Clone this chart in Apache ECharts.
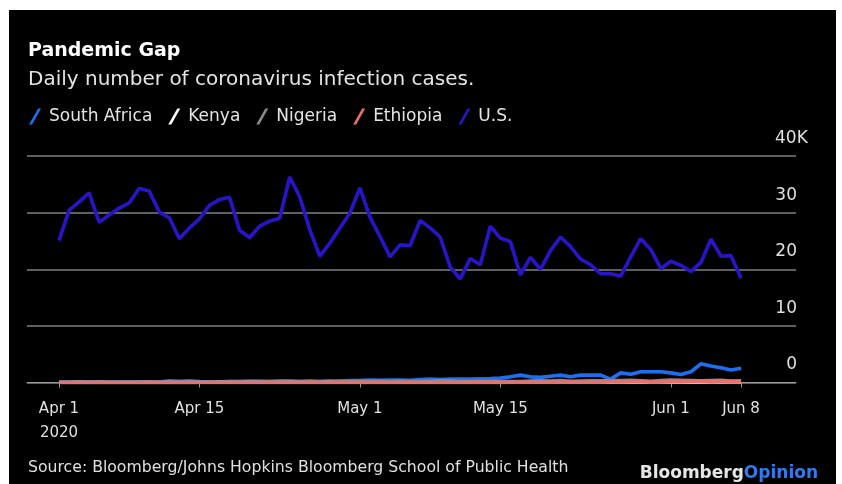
<!DOCTYPE html>
<html><head><meta charset="utf-8">
<script src="https://cdn.jsdelivr.net/npm/echarts@6/dist/echarts.min.js"></script>
<style>
html,body{margin:0;padding:0;background:#fff;width:842px;height:484px;overflow:hidden}
#c{position:absolute;left:9px;top:10px;width:827px;height:474px;background:#000}
</style></head><body><div id="c"></div>
<script>
// Daily cases, thousands, Apr 1 2020 .. Jun 8 2020 (69 days)
const firstDay = '2020-04-01';
const tickDays = ['2020-04-01','2020-04-15','2020-05-01','2020-05-15','2020-06-01','2020-06-08'];
const tickLabels = ['Apr 1\n2020','Apr 15','May 1','May 15','Jun 1','Jun 8'];

const southAfrica = [0.1,0.05,0.1,0.1,0.1,0.05,0.1,0.1,0.1,0.05,
  0.1,0.3,0.2,0.3,0.15,0.1,0.1,0.2,0.2,0.25,
  0.25,0.2,0.3,0.3,0.2,0.3,0.2,0.3,0.25,0.35,
  0.35,0.45,0.4,0.45,0.45,0.4,0.5,0.6,0.5,0.6,
  0.6,0.6,0.65,0.7,0.8,1.0,1.3,1.0,0.9,1.1,
  1.3,1.0,1.3,1.3,1.3,0.6,1.7,1.45,1.9,1.9,
  1.9,1.7,1.4,1.9,3.3,2.9,2.6,2.2,2.5];
const kenya = [0.01,0.01,0.02,0.01,0.02,0.01,0.01,0.01,0.01,0.02,
  0.01,0.01,0.01,0.01,0.01,0.01,0.02,0.01,0.01,0.02,
  0.01,0.01,0.01,0.02,0.01,0.01,0.01,0.02,0.01,0.01,
  0.02,0.02,0.03,0.02,0.02,0.02,0.03,0.02,0.03,0.02,
  0.03,0.03,0.02,0.05,0.03,0.04,0.05,0.05,0.06,0.05,
  0.07,0.04,0.06,0.08,0.06,0.07,0.12,0.09,0.1,0.12,
  0.13,0.08,0.1,0.12,0.1,0.13,0.13,0.12,0.14];
const nigeria = [0.01,0.02,0.02,0.03,0.02,0.02,0.03,0.02,0.03,0.02,
  0.02,0.04,0.02,0.03,0.05,0.06,0.04,0.09,0.08,0.04,
  0.05,0.12,0.09,0.1,0.1,0.12,0.09,0.1,0.2,0.2,
  0.24,0.2,0.24,0.17,0.24,0.15,0.2,0.2,0.35,0.3,
  0.15,0.18,0.19,0.17,0.19,0.18,0.18,0.25,0.28,0.25,
  0.33,0.2,0.25,0.3,0.28,0.34,0.35,0.39,0.3,0.2,
  0.35,0.45,0.4,0.35,0.3,0.35,0.4,0.25,0.3];
const ethiopia = [0.01,0.01,0.01,0.0,0.01,0.0,0.01,0.0,0.01,0.01,
  0.0,0.0,0.01,0.01,0.01,0.0,0.0,0.01,0.01,0.0,
  0.01,0.0,0.0,0.01,0.0,0.01,0.0,0.0,0.01,0.0,
  0.01,0.0,0.01,0.0,0.01,0.0,0.01,0.0,0.01,0.01,
  0.01,0.02,0.02,0.02,0.03,0.02,0.02,0.03,0.04,0.03,
  0.05,0.06,0.04,0.05,0.06,0.08,0.1,0.12,0.2,0.1,
  0.1,0.15,0.12,0.2,0.25,0.2,0.28,0.15,0.18];
const unitedStates = [25.1,30.4,31.9,33.5,28.3,29.6,30.8,31.7,34.3,33.8,
  30.1,29.1,25.4,27.3,28.9,31.3,32.3,32.7,26.9,25.6,
  27.6,28.5,29.0,36.3,32.8,27.0,22.3,24.6,27.3,29.9,
  34.4,29.2,25.8,22.2,24.3,24.2,28.6,27.3,25.7,20.4,
  18.3,21.9,20.8,27.6,25.5,24.9,19.0,22.1,20.0,23.3,
  25.7,24.0,21.8,20.8,19.2,19.2,18.8,22.2,25.4,23.5,
  20.1,21.4,20.7,19.6,21.2,25.3,22.3,22.4,18.4];

const seriesNames = ['South Africa','Kenya','Nigeria','Ethiopia','U.S.'];
const seriesValues = [southAfrica, kenya, nigeria, ethiopia, unitedStates];
const seriesColors = ['#1e6ff0','#ffffff','#8a8a8a','#e8716d','#2a14c8'];

const DAY = 86400000;
const t0 = Date.parse(firstDay + 'T00:00:00Z');
// day offsets from Apr 1
const tickIdx = tickDays.map(d => Math.round((Date.parse(d + 'T00:00:00Z') - t0) / DAY));
const labelByIdx = {};
tickIdx.forEach((t, i) => { labelByIdx[t] = tickLabels[i]; });

const FONT = 'DejaVu Sans';
const chart = echarts.init(document.getElementById('c'));
chart.setOption({
  backgroundColor: '#000',
  animation: false,
  textStyle: { fontFamily: FONT },
  title: {
    text: 'Pandemic Gap',
    subtext: 'Daily number of coronavirus infection cases.',
    left: 14, top: 27,
    itemGap: 9,
    textStyle: { color: '#fff', fontSize: 19, fontWeight: 'bold', fontFamily: FONT },
    subtextStyle: { color: '#e4e4e4', fontSize: 20, fontFamily: FONT }
  },
  legend: {
    left: 15, top: 93,
    itemWidth: 12, itemHeight: 16, itemGap: 16,
    icon: 'path://M0,16 L3,16 L12,0 L9,0 Z',
    textStyle: { color: '#e4e4e4', fontSize: 17, fontFamily: FONT, padding: [0, 0, 0, 3] },
    data: seriesNames
  },
  grid: { left: 18, right: 40, top: 146, bottom: 101.5, containLabel: false },
  xAxis: {
    type: 'value',
    min: -3.19,
    max: 73.48,
    axisLine: { show: true, onZero: false, lineStyle: { color: '#9a9a9a', width: 1 } },
    axisTick: { show: true, length: 5, lineStyle: { color: '#9a9a9a' }, customValues: tickIdx },
    axisLabel: {
      customValues: tickIdx,
      color: '#e0e0e0', fontSize: 15, fontFamily: FONT, lineHeight: 24, margin: 15,
      formatter: v => labelByIdx[v] || ''
    },
    splitLine: { show: false }
  },
  yAxis: {
    type: 'value',
    position: 'right',
    min: 0, max: 40, interval: 10,
    axisLine: { show: false },
    axisTick: { show: false },
    splitLine: { lineStyle: { color: '#7f7f7f', width: 1.5 } },
    axisLabel: {
      inside: true, margin: -1,
      verticalAlign: 'bottom',
      padding: [0, 0, 9, 0],
      color: '#e0e0e0', fontSize: 17, fontFamily: FONT,
      formatter: v => v === 40 ? '{w|40K}' : String(v),
      rich: { w: { width: 22, align: 'left', fontSize: 17, color: '#e0e0e0', fontFamily: FONT } }
    }
  },
  series: seriesNames.map((name, k) => ({
    name, type: 'line',
    data: seriesValues[k].map((v, i) => [i, v]),
    showSymbol: false, symbol: 'none',
    color: seriesColors[k],
    lineStyle: { color: seriesColors[k], width: 3.6 },
    itemStyle: { color: seriesColors[k] },
    z: 2 + k
  })),
  graphic: [
    { type: 'text', left: 19, top: 450,
      style: { text: 'Source: Bloomberg/Johns Hopkins Bloomberg School of Public Health',
        fill: '#e0e0e0', font: '15.7px "DejaVu Sans"' } },
    { type: 'text', right: 18, top: 455,
      style: { text: '{a|Bloomberg}{b|Opinion}',
        rich: {
          a: { fill: '#e6e6e6', font: 'bold 17px "DejaVu Sans"' },
          b: { fill: '#2f7cf0', font: 'bold 17px "DejaVu Sans"' }
        } } }
  ]
});
</script></body></html>
